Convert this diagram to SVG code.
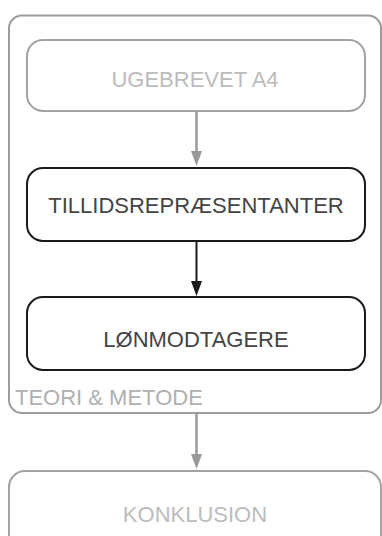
<svg xmlns="http://www.w3.org/2000/svg" width="382" height="536" viewBox="0 0 382 536">
<defs>
<style>
.lbl{font-family:"Liberation Sans",Arial,sans-serif;font-size:22px;text-anchor:middle}
.gbox{fill:#fff;stroke:#a3a3a3;stroke-width:2}
.kbox{fill:#fff;stroke:#1a1a1a;stroke-width:2}
.gtxt{fill:#bcbcbc}
.ktxt{fill:#444}
.gline{stroke:#999;stroke-width:2.5;fill:none}
.kline{stroke:#1a1a1a;stroke-width:2;fill:none}
</style>
</defs>
<g id="teori-metode">
<rect x="9" y="15.5" width="372" height="397.5" rx="13" fill="#fff" stroke="#9c9c9c" stroke-width="2"/>
<text x="15" y="405" font-family="Liberation Sans, Arial, sans-serif" font-size="22" fill="#b0b0b0">TEORI &amp; METODE</text>
</g>
<g id="connectors">
<line class="gline" x1="196.5" y1="111" x2="196.5" y2="152"/>
<path d="M191,151 L202,151 L196.5,166 Z" fill="#999"/>
<line class="kline" x1="196.5" y1="241" x2="196.5" y2="282"/>
<path d="M191,281 L202,281 L196.5,296 Z" fill="#1a1a1a"/>
<line class="gline" x1="196.5" y1="413" x2="196.5" y2="455"/>
<path d="M191,454 L202,454 L196.5,469 Z" fill="#999"/>
</g>
<g id="ugebrevet">
<rect class="gbox" x="27" y="40" width="338" height="71" rx="16"/>
<text class="lbl gtxt" x="195" y="87">UGEBREVET A4</text>
</g>
<g id="tillidsrepraesentanter">
<rect class="kbox" x="27" y="168" width="338" height="73" rx="16"/>
<text class="lbl ktxt" x="196" y="213">TILLIDSREPRÆSENTANTER</text>
</g>
<g id="loenmodtagere">
<rect class="kbox" x="27" y="297" width="338" height="73" rx="16"/>
<text class="lbl ktxt" x="196" y="347">LØNMODTAGERE</text>
</g>
<g id="konklusion">
<rect class="gbox" x="9" y="471" width="372" height="90" rx="16"/>
<text class="lbl gtxt" x="195" y="522">KONKLUSION</text>
</g>
</svg>
